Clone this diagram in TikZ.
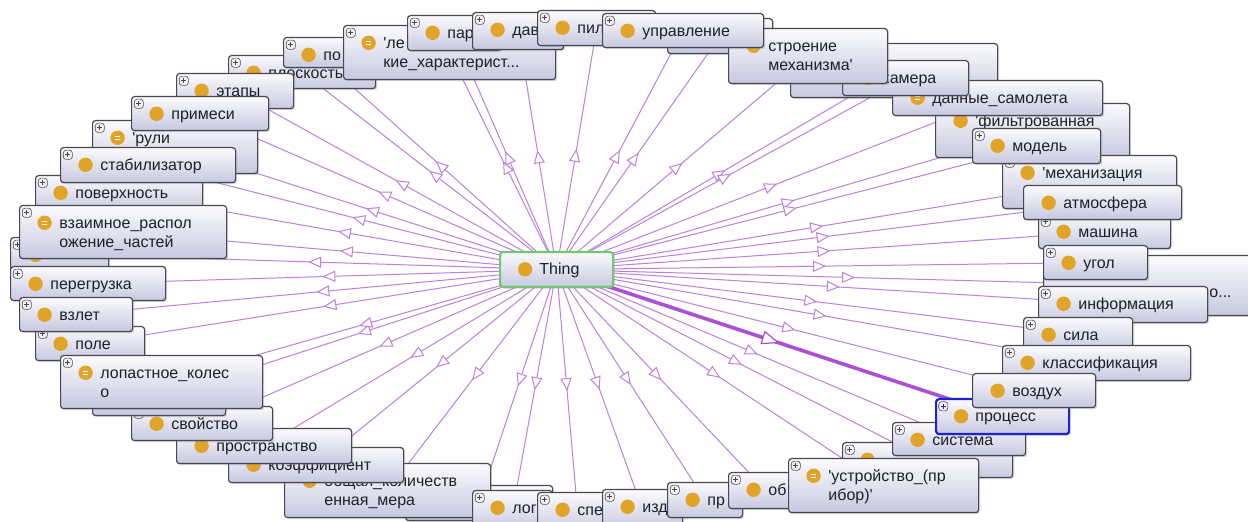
\documentclass[tikz,border=0pt]{standalone}
\usepackage{fontspec}
\setmainfont{Liberation Sans}
\usetikzlibrary{arrows.meta,decorations.markings,shadows,backgrounds}
\definecolor{kante-lila}{RGB}{190,128,216}
\definecolor{kante-akt}{RGB}{170,80,214}
\definecolor{box-oben}{RGB}{251,251,254}
\definecolor{box-unten}{RGB}{200,200,224}
\definecolor{box-rand}{RGB}{72,72,82}
\definecolor{punkt-gelb}{RGB}{224,164,40}
\definecolor{thing-gruen}{RGB}{112,200,112}
\definecolor{sel-blau}{RGB}{32,32,214}
\definecolor{text-dunkel}{RGB}{32,32,40}
\newcommand{\plusmark}{%
  \draw[draw=gray!60!black, fill=gray!12, line width=0.3pt]
    ([shift={(1.3pt,-1.3pt)}]path picture bounding box.north west) rectangle +(4.6pt,-4.6pt);
  \draw[line width=0.45pt]
    ([shift={(2.3pt,-3.6pt)}]path picture bounding box.north west) -- +(2.6pt,0pt)
    ([shift={(3.6pt,-2.3pt)}]path picture bounding box.north west) -- +(0pt,-2.6pt);}
\newcommand{\dotmark}{%
  \fill[punkt-gelb] ([shift={(12.5pt,-8.6pt)}]path picture bounding box.north west) circle[radius=3.6pt];}
\newcommand{\eqvmark}{%
  \draw[white, line width=0.55pt]
    ([shift={(11.1pt,-7.9pt)}]path picture bounding box.north west) -- +(2.8pt,0pt)
    ([shift={(11.1pt,-9.3pt)}]path picture bounding box.north west) -- +(2.8pt,0pt);}
\newcommand{\q}{\textquotesingle}

\begin{document}
\begin{tikzpicture}[x=0.5pt, y=-0.5pt, font=\fontsize{8}{9.8}\selectfont,
    box/.style={rectangle, rounded corners=1.5pt, draw=box-rand, line width=0.6pt,
      top color=box-oben, bottom color=box-unten, anchor=north west, inner sep=0pt,
      drop shadow={shadow xshift=0.8pt, shadow yshift=-0.8pt, opacity=0.3}},
    cls/.style={box, path picture={\plusmark\dotmark}},
    leaf/.style={box, path picture={\dotmark}},
    eqv/.style={box, path picture={\plusmark\dotmark\eqvmark}},
    sel/.style={draw=sel-blau, line width=1.1pt},
    sz/.style 2 args={minimum width=#1*0.5pt, minimum height=#2*0.5pt},
    lbl/.style={anchor=base west, inner sep=0pt, xshift=20pt, yshift=-11.6pt, align=left, text=text-dunkel},
    lbl2/.style={lbl, text width=150pt},
    ed/.style={draw=kante-lila, line width=0.5pt, postaction={decorate},
      decoration={markings, mark=at position 0.5 with {\arrow{Triangle[fill=white, length=6.5pt, width=5.5pt]}}}},
    ed-akt/.style={draw=kante-akt, line width=1.8pt, postaction={decorate},
      decoration={markings, mark=at position 0.5 with {\arrow[line width=0.6pt]{Triangle[fill=white, length=9pt, width=7pt]}}}}]
  \useasboundingbox (0,0) rectangle (1248,522);

  \node[cls, sz={147}{33}, label={[lbl]north west:плоскость}] (plos) at (228,55) {};
  \node[cls, sz={62}{30}, label={[lbl]north west:по}] (po) at (283,37) {};
  \node[eqv, sz={212}{54}, label={[lbl2]north west:{\q ле\\кие\_характерист...}}] (leth) at (343,25) {};
  \node[cls, sz={93}{35}, label={[lbl]north west:пар}] (par) at (407,15) {};
  \node[cls, sz={91}{37}, label={[lbl]north west:дав}] (dav) at (472,12) {};
  \node[cls, sz={118}{35}, label={[lbl]north west:пил}] (pil) at (537,10) {};
  \node[cls, sz={105}{35}] (hu) at (667,18) {};

  \node[cls, sz={207}{54}] (hk) at (790,43) {};
  \node[cls, sz={194}{54}, label={[lbl]north west:\q фильтрованная}] (filt) at (935,103) {};
  \node[eqv, sz={210}{35}, label={[lbl]north west:данные\_самолета}] (dann) at (892,80) {};
  \node[cls, sz={126}{35}, label={[lbl]north west:камера}] (kam) at (842,60) {};
  \node[cls, sz={159}{55}, label={[lbl2]north west:{строение\\механизма\q}}] (stro) at (728,28) {};
  \node[cls, sz={161}{34}, label={[lbl]north west:управление}] (upr) at (602,13) {};
  \node[cls, sz={174}{53}, label={[lbl]north west:\q механизация}] (mech) at (1002,155) {};
  \node[cls, sz={128}{35}, label={[lbl]north west:модель}] (mod) at (972,128) {};
  \node[cls, sz={132}{34}, label={[lbl]north west:машина}] (masch) at (1038,214) {};
  \node[leaf, sz={158}{34}, label={[lbl]north west:атмосфера}] (atm) at (1023,185) {};
  \node[cls, sz={220}{60}, label={[lbl2]north west:{\strut\\\hspace*{63pt}о...}}] (hr) at (1043,255) {};
  \node[cls, sz={104}{34}, label={[lbl]north west:угол}] (ugol) at (1043,245) {};
  \node[cls, sz={169}{36}, label={[lbl]north west:информация}] (info) at (1038,286) {};
  \node[cls, sz={109}{33}, label={[lbl]north west:сила}] (sila) at (1023,317) {};
  \node[cls, sz={188}{35}, label={[lbl]north west:классификация}] (klass) at (1002,345) {};
  \node[cls, sz={170}{35}] (hs) at (842,442) {};
  \node[cls, sz={133}{33}, label={[lbl]north west:система}] (sys) at (892,422) {};
  \node[cls, sel, sz={133}{35}, label={[lbl]north west:процесс}] (proz) at (935,398) {};
  \node[leaf, sz={123}{34}, label={[lbl]north west:воздух}] (luft) at (972,373) {};

  \node[cls, sz={117}{35}, label={[lbl]north west:этапы}] (etap) at (176,73) {};
  \node[eqv, sz={165}{53}, label={[lbl]north west:\q рули}] (ruli) at (92,120) {};
  \node[cls, sz={137}{34}, label={[lbl]north west:примеси}] (prim) at (131,96) {};
  \node[cls, sz={167}{35}, label={[lbl]north west:поверхность}] (pover) at (35,175) {};
  \node[cls, sz={175}{35}, label={[lbl]north west:стабилизатор}] (stab) at (60,147) {};
  \node[cls, sz={98}{33}] (h9) at (10,237) {};
  \node[eqv, sz={207}{53}, label={[lbl2]north west:{взаимное\_распол\\ожение\_частей}}] (vzaim) at (19,205) {};
  \node[cls, sz={155}{34}, label={[lbl]north west:перегрузка}] (pereg) at (10,266) {};
  \node[cls, sz={109}{34}, label={[lbl]north west:поле}] (pole) at (35,326) {};
  \node[cls, sz={113}{34}, label={[lbl]north west:взлет}] (vzlet) at (19,297) {};

  \node[cls, sz={147}{35}] (hb) at (405,485) {};
  \node[cls, sz={206}{54}, label={[lbl2]north west:{общая\_количеств\\енная\_мера}}] (obsh) at (284,463) {};
  \node[cls, sz={175}{35}, label={[lbl]north west:коэффициент}] (koef) at (228,447) {};
  \node[cls, sz={175}{35}, label={[lbl]north west:пространство}] (prost) at (176,428) {};
  \node[cls, sz={141}{34}, label={[lbl]north west:свойство}] (svoj) at (131,406) {};
  \node[cls, sz={133}{35}] (hl) at (92,380) {};
  \node[eqv, sz={202}{53}, label={[lbl2]north west:{лопастное\_колес\\о}}] (lop) at (60,355) {};

  \node[cls, sz={80}{40}, label={[lbl]north west:лог}] (log) at (472,490) {};
  \node[cls, sz={80}{40}, label={[lbl]north west:спе}] (spe) at (537,492) {};
  \node[cls, sz={80}{40}, label={[lbl]north west:изд}] (izd) at (602,489) {};
  \node[cls, sz={75}{35}, label={[lbl]north west:пр}] (pr) at (667,482) {};
  \node[cls, sz={75}{36}, label={[lbl]north west:об}] (ob) at (728,472) {};
  \node[eqv, sz={190}{54}, label={[lbl2]north west:{\q устройство\_(пр\\ибор)\q}}] (ustr) at (788,458) {};

  \node[leaf, draw=thing-gruen, line width=1.1pt, sz={113}{35}, label={[lbl]north west:Thing}] (thing) at (499,251) {};

  \begin{scope}[on background layer]
    \fill[white] (0,0) rectangle (1248,522);
    \draw[ed] (thing.center)--(plos.center); \draw[ed] (thing.center)--(po.center);
    \draw[ed] (thing.center)--(leth.center); \draw[ed] (thing.center)--(par.center);
    \draw[ed] (thing.center)--(dav.center); \draw[ed] (thing.center)--(pil.center);
    \draw[ed] (thing.center)--(hu.center); \draw[ed] (thing.center)--(hk.center);
    \draw[ed] (thing.center)--(filt.center); \draw[ed] (thing.center)--(dann.center);
    \draw[ed] (thing.center)--(kam.center); \draw[ed] (thing.center)--(stro.center);
    \draw[ed] (thing.center)--(upr.center); \draw[ed] (thing.center)--(mech.center);
    \draw[ed] (thing.center)--(mod.center); \draw[ed] (thing.center)--(masch.center);
    \draw[ed] (thing.center)--(atm.center); \draw[ed] (thing.center)--(hr.center);
    \draw[ed] (thing.center)--(ugol.center); \draw[ed] (thing.center)--(info.center);
    \draw[ed] (thing.center)--(sila.center); \draw[ed] (thing.center)--(klass.center);
    \draw[ed] (thing.center)--(hs.center); \draw[ed] (thing.center)--(sys.center);
    \draw[ed] (thing.center)--(luft.center); \draw[ed] (thing.center)--(etap.center);
    \draw[ed] (thing.center)--(ruli.center); \draw[ed] (thing.center)--(prim.center);
    \draw[ed] (thing.center)--(pover.center); \draw[ed] (thing.center)--(stab.center);
    \draw[ed] (thing.center)--(h9.center); \draw[ed] (thing.center)--(vzaim.center);
    \draw[ed] (thing.center)--(pereg.center); \draw[ed] (thing.center)--(pole.center);
    \draw[ed] (thing.center)--(vzlet.center); \draw[ed] (thing.center)--(hb.center);
    \draw[ed] (thing.center)--(obsh.center); \draw[ed] (thing.center)--(koef.center);
    \draw[ed] (thing.center)--(prost.center); \draw[ed] (thing.center)--(svoj.center);
    \draw[ed] (thing.center)--(hl.center); \draw[ed] (thing.center)--(lop.center);
    \draw[ed] (thing.center)--(log.center); \draw[ed] (thing.center)--(spe.center);
    \draw[ed] (thing.center)--(izd.center); \draw[ed] (thing.center)--(pr.center);
    \draw[ed] (thing.center)--(ob.center); \draw[ed] (thing.center)--(ustr.center);
    \draw[ed-akt] (thing.center)--(proz.center);
  \end{scope}
\end{tikzpicture}
\end{document}
